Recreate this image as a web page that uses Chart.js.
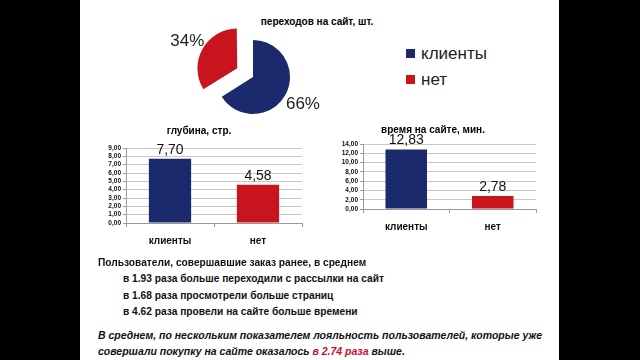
<!DOCTYPE html>
<html>
<head>
<meta charset="utf-8">
<script src="https://cdn.jsdelivr.net/npm/chart.js@4.4.1/dist/chart.umd.min.js"></script>
<style>
  body { margin: 0; width: 640px; height: 360px; background: #000; overflow: hidden; font-family: "Liberation Sans", Arial, sans-serif; }
  .slide { position: absolute; left: 80px; top: 0; width: 479px; height: 360px; background: #fff; }
  .box { position: absolute; }
  .pie-title { position: absolute; left: 200px; width: 234px; top: 16px; text-align: center; font-weight: bold; font-size: 10px; color: #000; }
  .legend { position: absolute; left: 406px; font-size: 17px; color: #222; line-height: 20px; }
  .legend span { display: inline-block; width: 9px; height: 9px; margin-right: 6px; vertical-align: 1px; }
  .txt { position: absolute; font-weight: bold; font-size: 10.2px; color: #111; white-space: nowrap; }
  .it { font-style: italic; font-size: 10.5px; }
  .red { color: #c8102e; }
</style>
</head>
<body>
<div class="slide"></div>

<div class="pie-title">переходов на сайт, шт.</div>
<div class="box" style="left:150px; top:22px; width:206px; height:110px;"><canvas id="pieChart"></canvas></div>
<div class="legend" style="top:44px;"><span style="background:#1a2a6c"></span>клиенты</div>
<div class="legend" style="top:70px;"><span style="background:#c8141c"></span>нет</div>

<div class="box" style="left:96px; top:118px; width:214px; height:137px;"><canvas id="depthChart"></canvas></div>
<div class="box" style="left:330px; top:117px; width:214px; height:124px;"><canvas id="timeChart"></canvas></div>

<div class="txt" style="left:98px; top:257px;">Пользователи, совершавшие заказ ранее, в среднем</div>
<div class="txt" style="left:123px; top:273px;">в 1.93 раза больше переходили с рассылки на сайт</div>
<div class="txt" style="left:123px; top:290px;">в 1.68 раза просмотрели больше страниц</div>
<div class="txt" style="left:123px; top:306px;">в 4.62 раза провели на сайте больше времени</div>
<div class="txt it" style="left:98px; top:329px;">В среднем, по нескольким показателем лояльность пользователей, которые уже</div>
<div class="txt it" style="left:98px; top:345px;">совершали покупку на сайте оказалось <span class="red">в 2.74 раза</span> выше.</div>

<script>
const categories = ['клиенты', 'нет'];
const colors = ['#1a2a6c', '#c8141c'];

const visitsShare = [66, 34];
const depthValues = [7.70, 4.58];
const timeValues = [12.83, 2.78];

const depthTicks = { max: 9, step: 1 };
const timeTicks = { max: 14, step: 2 };

const fmt = v => Number(v).toFixed(2).replace('.', ',');

// подписи процентов снаружи сектора (offset в v4 сдвигает на offset/4)
const pieLabels = {
  id: 'pieLabels',
  afterDatasetsDraw(chart) {
    const ctx = chart.ctx;
    const ds = chart.data.datasets[0];
    const total = ds.data.reduce((a, b) => a + b, 0);
    ctx.save();
    ctx.font = '17px "Liberation Sans", Arial, sans-serif';
    ctx.fillStyle = '#222';
    ctx.textAlign = 'center';
    ctx.textBaseline = 'middle';
    chart.getDatasetMeta(0).data.forEach((arc, i) => {
      const p = arc.getProps(['x', 'y', 'startAngle', 'endAngle', 'outerRadius'], true);
      const mid = (p.startAngle + p.endAngle) / 2;
      const off = (ds.offset[i] || 0) / 4;
      const d = p.outerRadius + off + 20;
      ctx.fillText(Math.round(ds.data[i] / total * 100) + '%', p.x + Math.cos(mid) * d, p.y + Math.sin(mid) * d);
    });
    ctx.restore();
  }
};

// значения над столбцами
const barLabels = {
  id: 'barLabels',
  afterDatasetsDraw(chart) {
    const ctx = chart.ctx;
    const ds = chart.data.datasets[0];
    ctx.save();
    ctx.font = '14px "Liberation Sans", Arial, sans-serif';
    ctx.fillStyle = '#111';
    ctx.textAlign = 'center';
    ctx.textBaseline = 'bottom';
    chart.getDatasetMeta(0).data.forEach((bar, i) => {
      ctx.fillText(fmt(ds.data[i]), bar.x, bar.y - 2);
    });
    ctx.restore();
  }
};

new Chart(document.getElementById('pieChart'), {
  type: 'pie',
  data: {
    labels: categories,
    datasets: [{
      data: visitsShare,
      backgroundColor: colors,
      borderWidth: 0,
      offset: [0, 72],
    }],
  },
  options: {
    responsive: true,
    maintainAspectRatio: false,
    animation: false,
    radius: 37,
    plugins: { legend: { display: false }, tooltip: { enabled: false } },
  },
  plugins: [pieLabels],
});

function barChart(id, title, values, yt, yWidth, titleBottom) {
  return new Chart(document.getElementById(id), {
    type: 'bar',
    data: {
      labels: categories,
      datasets: [{
        data: values,
        backgroundColor: colors,
        categoryPercentage: 1,
        barPercentage: 0.48,
      }],
    },
    options: {
      responsive: true,
      maintainAspectRatio: false,
      animation: false,
      layout: { padding: { left: 0, right: 8, top: 0, bottom: 0 } },
      plugins: {
        legend: { display: false },
        tooltip: { enabled: false },
        title: {
          display: true,
          text: title,
          color: '#000',
          font: { family: '"Liberation Sans", Arial, sans-serif', size: 10, weight: 'bold' },
          padding: { top: 7, bottom: titleBottom },
        },
      },
      scales: {
        x: {
          offset: true,
          grid: { display: true, drawOnChartArea: false, offset: true, tickLength: 4, color: '#999' },
          border: { color: '#999' },
          ticks: {
            color: '#111',
            padding: 8,
            font: { family: '"Liberation Sans", Arial, sans-serif', size: 10, weight: 'bold' },
          },
        },
        y: {
          min: 0,
          max: yt.max,
          afterFit(scale) { scale.width = yWidth; },
          grid: { color: '#c8c8c8', tickLength: 3, tickColor: '#999' },
          border: { color: '#999' },
          ticks: {
            stepSize: yt.step,
            autoSkip: false,
            padding: 2,
            color: '#111',
            callback: v => fmt(v),
            font: { family: '"Liberation Sans", Arial, sans-serif', size: 6.5, weight: 'bold' },
          },
        },
      },
    },
    plugins: [barLabels],
  });
}

barChart('depthChart', 'глубина, стр.', depthValues, depthTicks, 30, 11);
barChart('timeChart', 'время на сайте, мин.', timeValues, timeTicks, 33, 8);
</script>
</body>
</html>
